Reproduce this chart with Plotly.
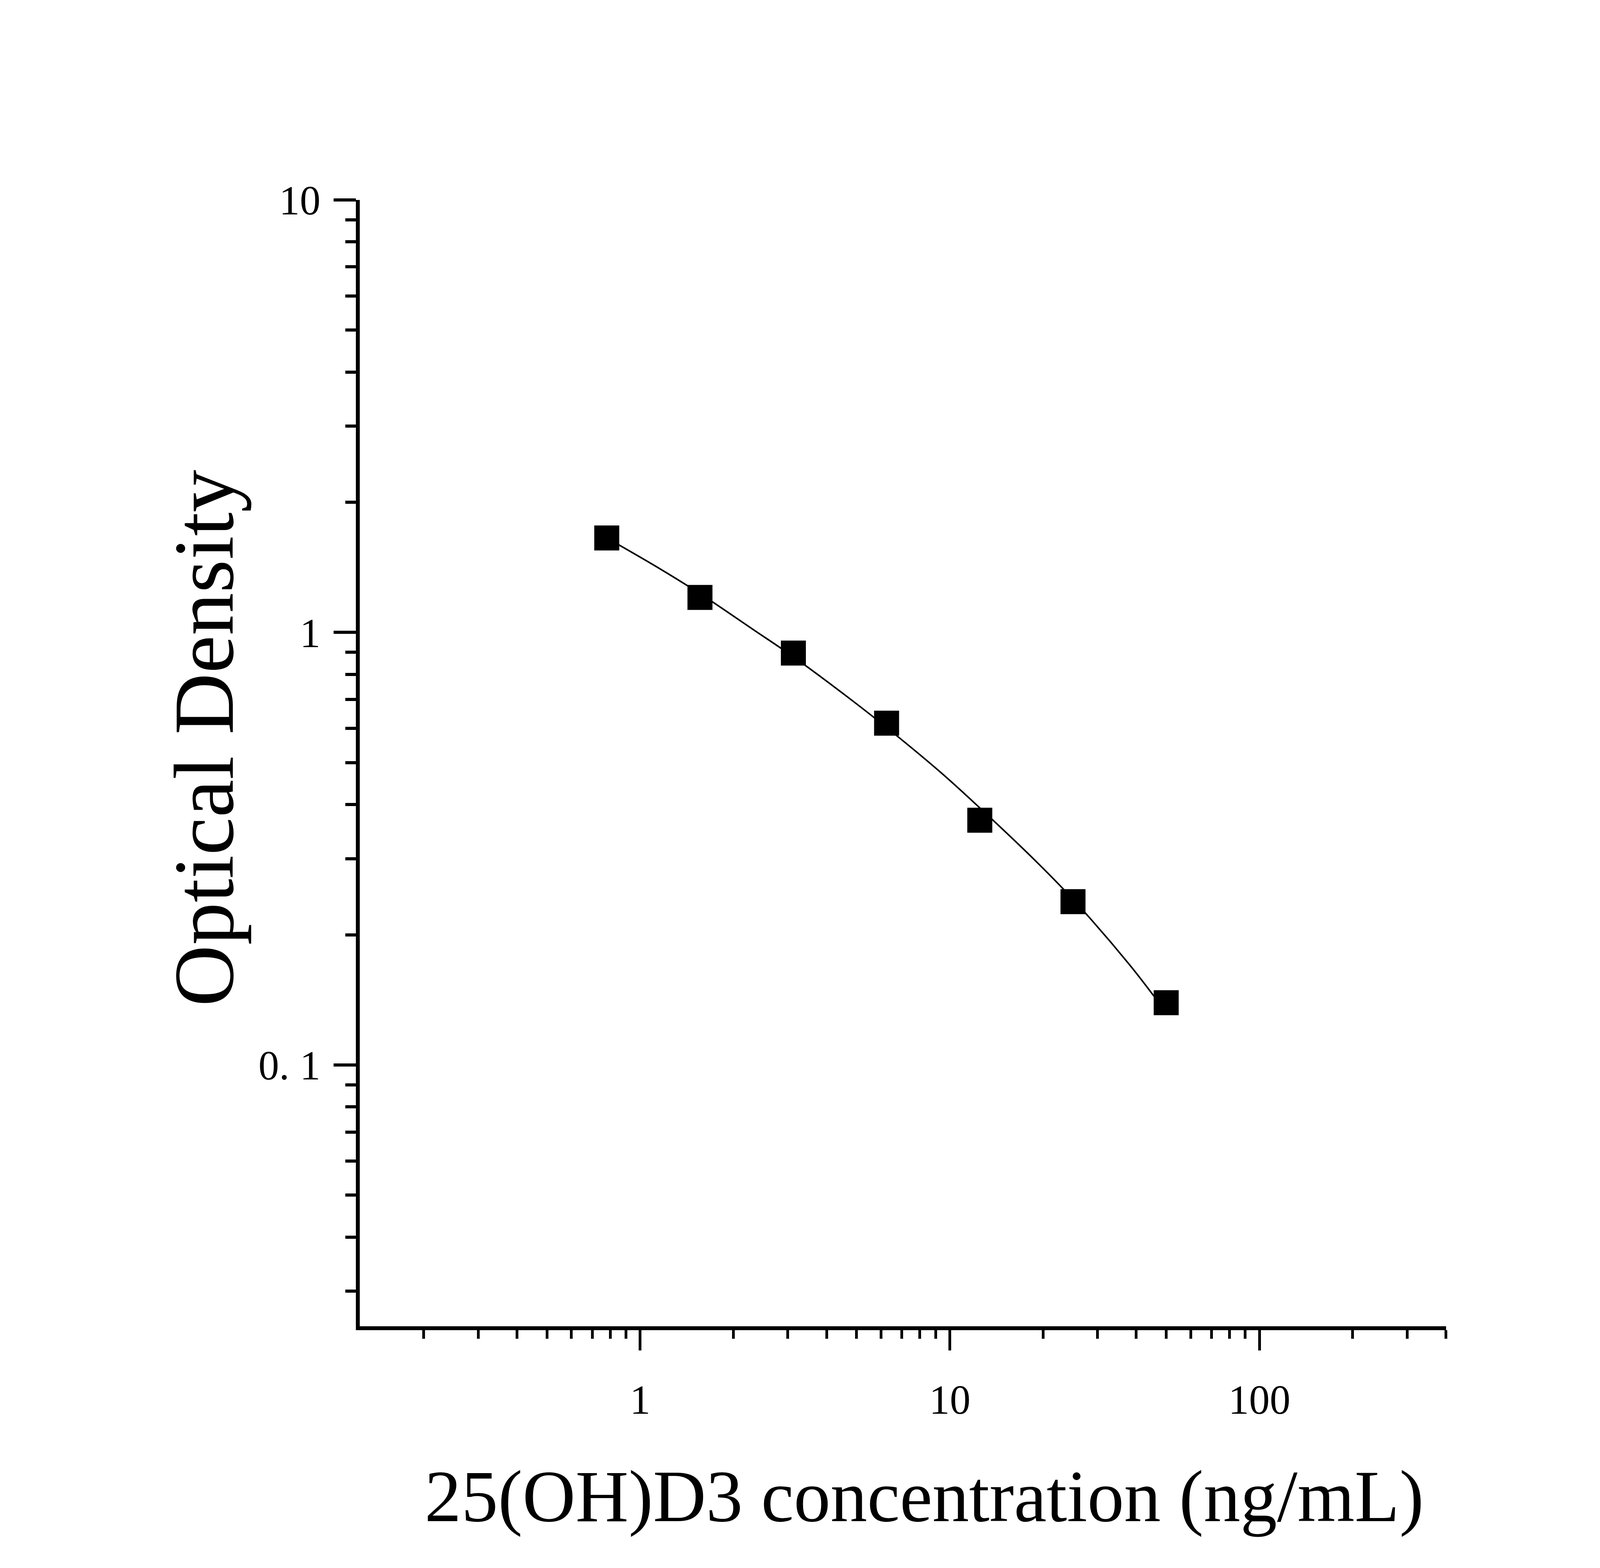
import plotly.graph_objects as go

# standard points
concentration = [0.78, 1.56, 3.125, 6.25, 12.5, 25, 50]
optical_density = [1.654, 1.205, 0.896, 0.617, 0.368, 0.2386, 0.1393]

# fitted curve at a few places along the line
curve_x = [0.78, 1.131, 1.57, 2.311, 3.135, 4.655, 6.285, 9.37, 12.5, 18.87, 25.07, 38.0, 50.2]
curve_y = [1.654, 1.418, 1.226, 1.017, 0.877, 0.711, 0.601, 0.474, 0.393, 0.297, 0.241, 0.1708, 0.1317]

x_ticks = [1, 10, 100]
x_ticklabels = ["1", "10", "100"]
y_ticks = [0.1, 1, 10]
y_ticklabels = ["0. 1", "1", "10"]

font_family = "Liberation Serif, Times New Roman, serif"

x_minor = [m * 10 ** e for e in range(-1, 3) for m in range(2, 10) if m * 10 ** e <= 400]
y_minor = [m * 10 ** e for e in range(-2, 1) for m in range(2, 10) if m * 10 ** e >= 0.03]

fig = go.Figure()

fig.add_trace(
    go.Scatter(
        x=curve_x,
        y=curve_y,
        mode="lines",
        line=dict(color="black", width=4, shape="spline", smoothing=1),
        hoverinfo="skip",
        showlegend=False,
    )
)

fig.add_trace(
    go.Scatter(
        x=concentration,
        y=optical_density,
        mode="markers",
        marker=dict(symbol="square", size=64, color="black"),
        showlegend=False,
    )
)

axis_common = dict(
    type="log",
    showline=True,
    linecolor="black",
    linewidth=10,
    showgrid=False,
    zeroline=False,
    automargin=False,
    ticks="outside",
    tickcolor="black",
    tickfont=dict(family=font_family, size=106, color="black"),
)

fig.update_xaxes(
    **axis_common,
    domain=[0.2237, 0.9054],
    range=[-0.906, 2.603],
    tickmode="array",
    tickvals=x_ticks,
    ticktext=x_ticklabels,
    ticklen=52,
    tickwidth=7,
    ticklabelstandoff=35,
    minor=dict(tickmode="array", tickvals=x_minor, ticks="outside",
               ticklen=22, tickwidth=7, tickcolor="black", showgrid=False),
)

fig.update_yaxes(
    **axis_common,
    domain=[0.1528, 0.874],
    range=[-1.604, 1.0],
    tickmode="array",
    tickvals=y_ticks,
    ticktext=y_ticklabels,
    ticklen=57,
    tickwidth=8,
    ticklabelstandoff=12,
    minor=dict(tickmode="array", tickvals=y_minor, ticks="outside",
               ticklen=27, tickwidth=8, tickcolor="black", showgrid=False),
)

fig.add_annotation(
    text="25(OH)D3 concentration (ng/mL)",
    xref="paper", yref="paper",
    x=0.578, y=0.0438,
    xanchor="center", yanchor="middle",
    showarrow=False,
    font=dict(family=font_family, size=188, color="black"),
)

fig.add_annotation(
    text="Optical Density",
    xref="paper", yref="paper",
    x=0.1263, y=0.5294,
    xanchor="center", yanchor="middle",
    textangle=-90,
    showarrow=False,
    font=dict(family=font_family, size=218, color="black"),
)

# width follows the window, positions are set as fractions of the page
fig.update_layout(
    height=3999,
    margin=dict(l=0, r=0, t=0, b=0),
    paper_bgcolor="white",
    plot_bgcolor="white",
)

fig.write_html("out.html")
